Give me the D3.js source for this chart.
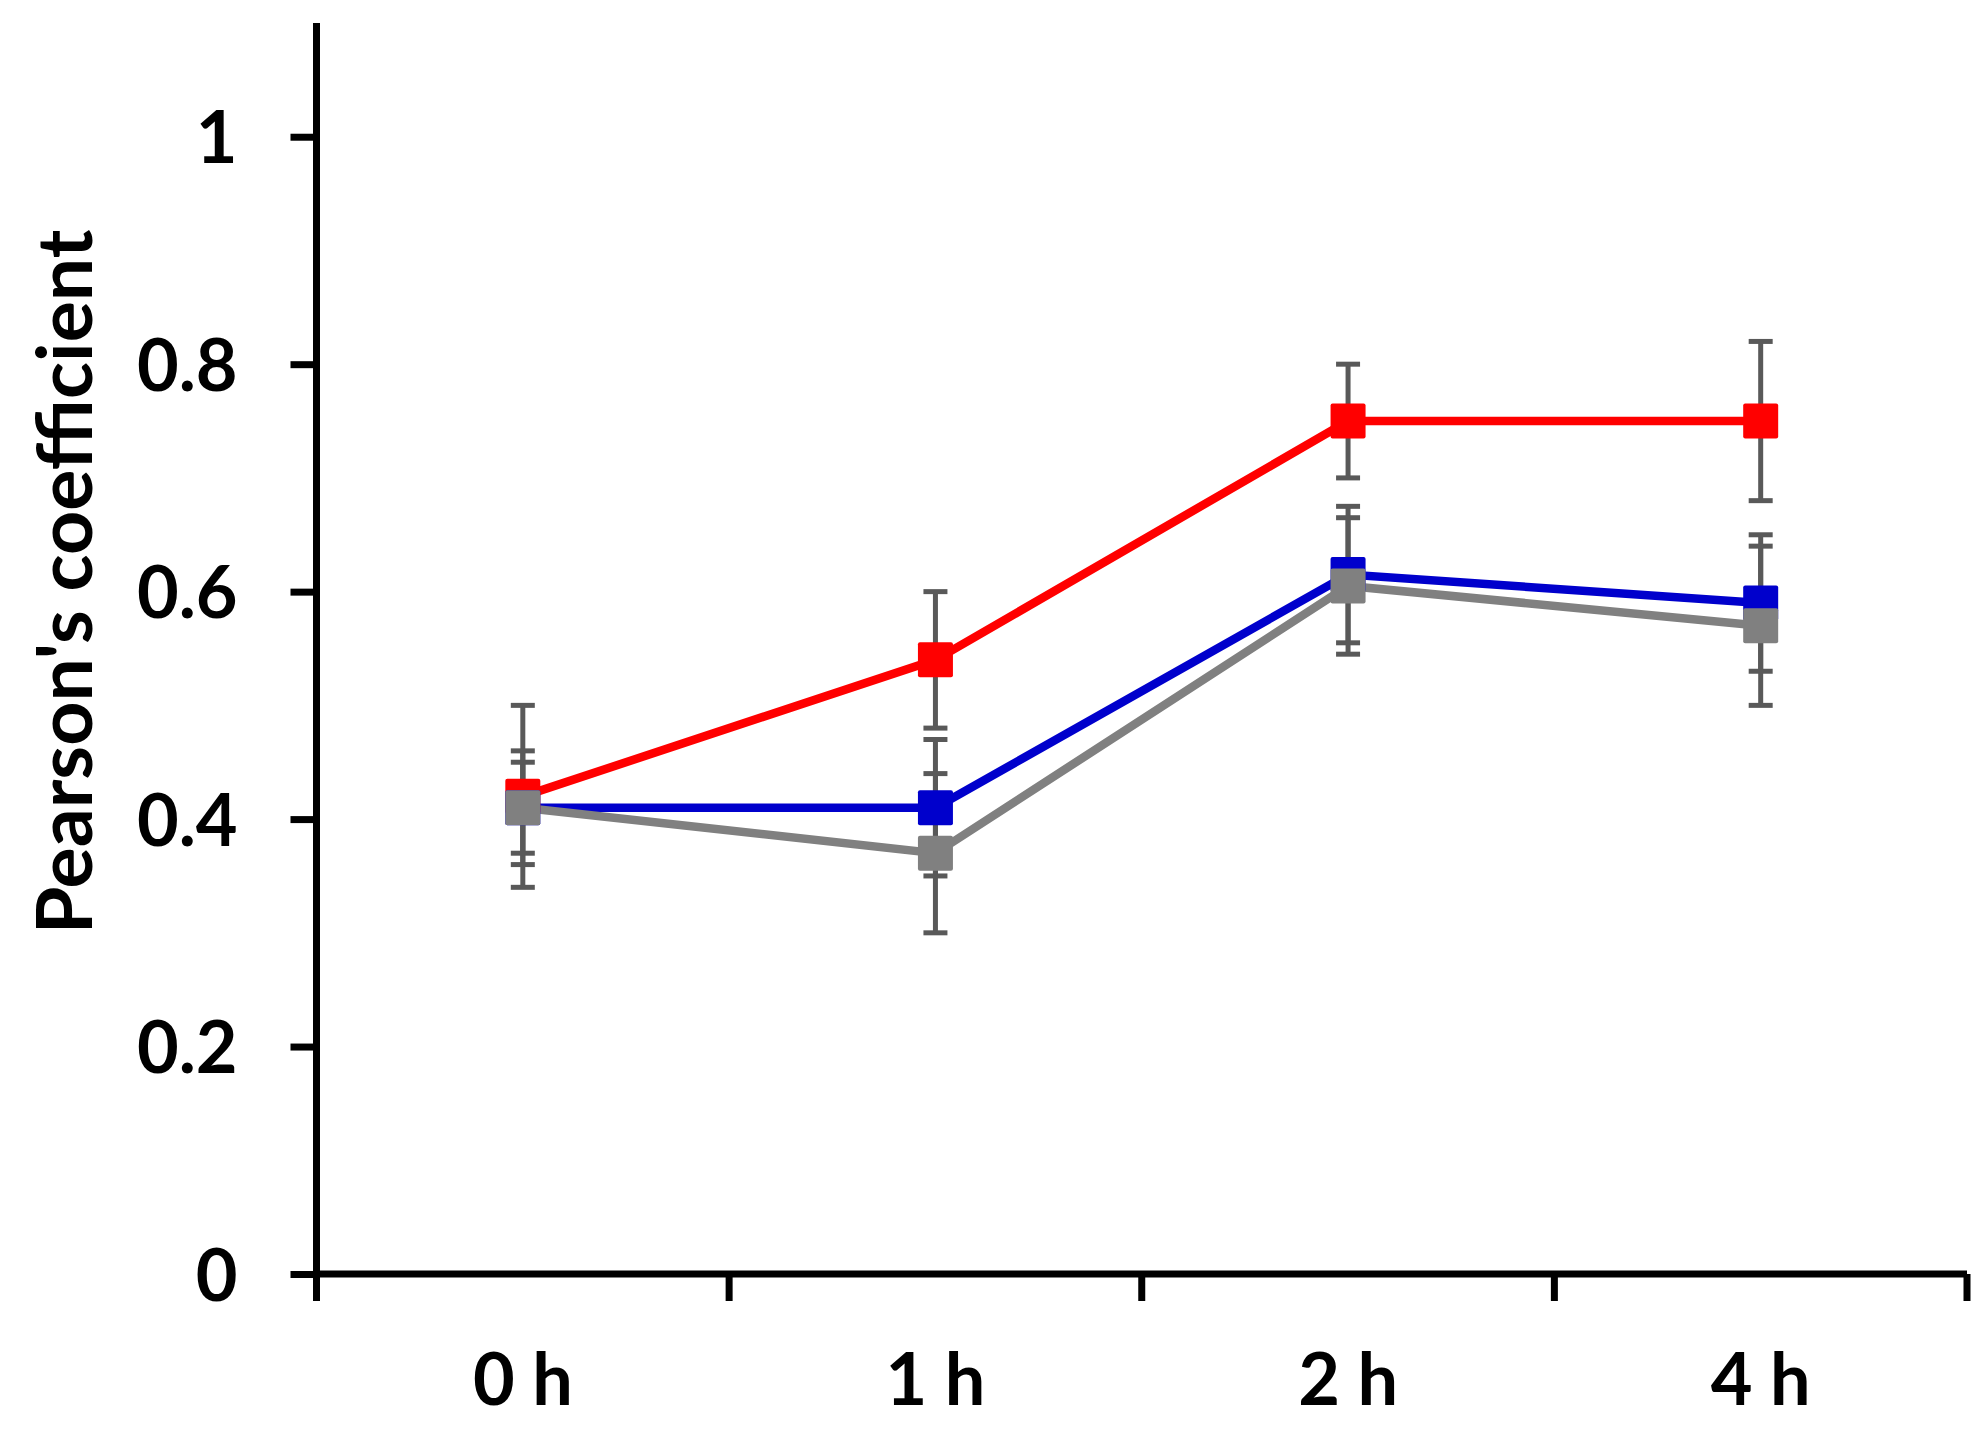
<!DOCTYPE html>
<html>
<head>
<meta charset="utf-8">
<script src="https://cdn.jsdelivr.net/npm/d3@7"></script>
<style>
	body { margin: 0; background: #fff; }
	text { font-family: Lato, "Open Sans", sans-serif; font-weight: bold; fill: #000; }
</style>
</head>
<body>
<div id="chart"></div>
<script>
/* data */
const categories = ["0 h", "1 h", "2 h", "4 h"];
const yTicks = [0, 0.2, 0.4, 0.6, 0.8, 1];

const redValues = [0.42, 0.54, 0.75, 0.75];
const redErrors = [0.08, 0.06, 0.05, 0.07];
const blueValues = [0.41, 0.41, 0.615, 0.59];
const blueErrors = [0.05, 0.06, 0.06, 0.06];
const grayValues = [0.41, 0.37, 0.605, 0.57];
const grayErrors = [0.04, 0.07, 0.06, 0.07];

const series = [
	{ name: "red", color: "#ff0000", values: redValues, errors: redErrors },
	{ name: "blue", color: "#0000cc", values: blueValues, errors: blueErrors },
	{ name: "gray", color: "#808080", values: grayValues, errors: grayErrors }
];

const width = 1983, height = 1432;
const margin = { top: 23, right: 16, bottom: 158, left: 316.5 };

const svg = d3.select("#chart").append("svg")
	.attr("width", width)
	.attr("height", height);

const x = d3.scaleBand()
	.domain(categories)
	.range([margin.left, width - margin.right]);

const y = d3.scaleLinear()
	.domain([0, 1.1])
	.range([height - margin.bottom, margin.top]);

/* y axis */
const yAxis = svg.append("g")
	.attr("transform", `translate(${margin.left},0)`)
	.call(d3.axisLeft(y).tickValues(yTicks).tickSize(26).tickPadding(53)
		.tickFormat(d => d === 0 ? "0" : String(d)));

/* x axis: ticks sit on the band boundaries, labels at band centres */
const xAxis = svg.append("g")
	.attr("transform", `translate(0,${y(0)})`)
	.call(d3.axisBottom(x).tickSize(27).tickPadding(0).tickFormat(""));

xAxis.selectAll(".tick").remove();
xAxis.selectAll(".edge")
	.data(categories.map(c => x(c)).concat([x.range()[1]]))
	.join("line")
		.attr("x1", d => d).attr("x2", d => d)
		.attr("y1", 0).attr("y2", 27)
		.attr("stroke", "#000").attr("stroke-width", 7);

svg.selectAll(".xlabel")
	.data(categories)
	.join("text")
		.attr("class", "xlabel")
		.attr("x", d => x(d) + x.bandwidth() / 2)
		.attr("y", 1405)
		.attr("text-anchor", "middle")
		.style("font-size", "72px")
		.text(d => d);

[yAxis, xAxis].forEach(g => {
	g.select(".domain").attr("stroke", "#000").attr("stroke-width", 7)
		.attr("d", g === yAxis
			? `M0,${y(1.1)}V${y(0)}`
			: `M${margin.left},0H${x.range()[1]}`);
	g.selectAll(".tick line").attr("stroke", "#000").attr("stroke-width", 7);
	g.selectAll(".tick text")
		.attr("dy", 26)
		.style("font-size", "72px")
		.style("font-family", "Lato, 'Open Sans', sans-serif");
});

/* axis title */
svg.append("text")
	.attr("transform", `translate(92,${582}) rotate(-90)`)
	.attr("text-anchor", "middle")
	.style("font-size", "77px")
	.text("Pearson's coefficient");

const cx = c => x(c) + x.bandwidth() / 2;

/* lines */
const line = d3.line()
	.x((d, i) => cx(categories[i]))
	.y(d => y(d));

svg.selectAll(".series")
	.data(series)
	.join("path")
		.attr("class", "series")
		.attr("fill", "none")
		.attr("stroke", d => d.color)
		.attr("stroke-width", 8.5)
		.attr("d", d => line(d.values));

/* error bars */
const capW = 24;
series.forEach(s => {
	const g = svg.append("g").attr("stroke", "#595959").attr("stroke-width", 5);
	s.values.forEach((v, i) => {
		const px = cx(categories[i]);
		const hi = y(v + s.errors[i]), lo = y(v - s.errors[i]);
		g.append("line").attr("x1", px).attr("x2", px).attr("y1", hi).attr("y2", lo);
		g.append("line").attr("x1", px - capW / 2).attr("x2", px + capW / 2).attr("y1", hi).attr("y2", hi);
		g.append("line").attr("x1", px - capW / 2).attr("x2", px + capW / 2).attr("y1", lo).attr("y2", lo);
	});
});

/* square markers, gray drawn last so it lies on top */
const m = 35;
series.forEach(s => {
	svg.append("g").selectAll("rect")
		.data(s.values)
		.join("rect")
			.attr("x", (d, i) => cx(categories[i]) - m / 2)
			.attr("y", d => y(d) - m / 2)
			.attr("width", m)
			.attr("height", m)
			.attr("rx", 2)
			.attr("fill", s.color);
});
</script>
</body>
</html>
